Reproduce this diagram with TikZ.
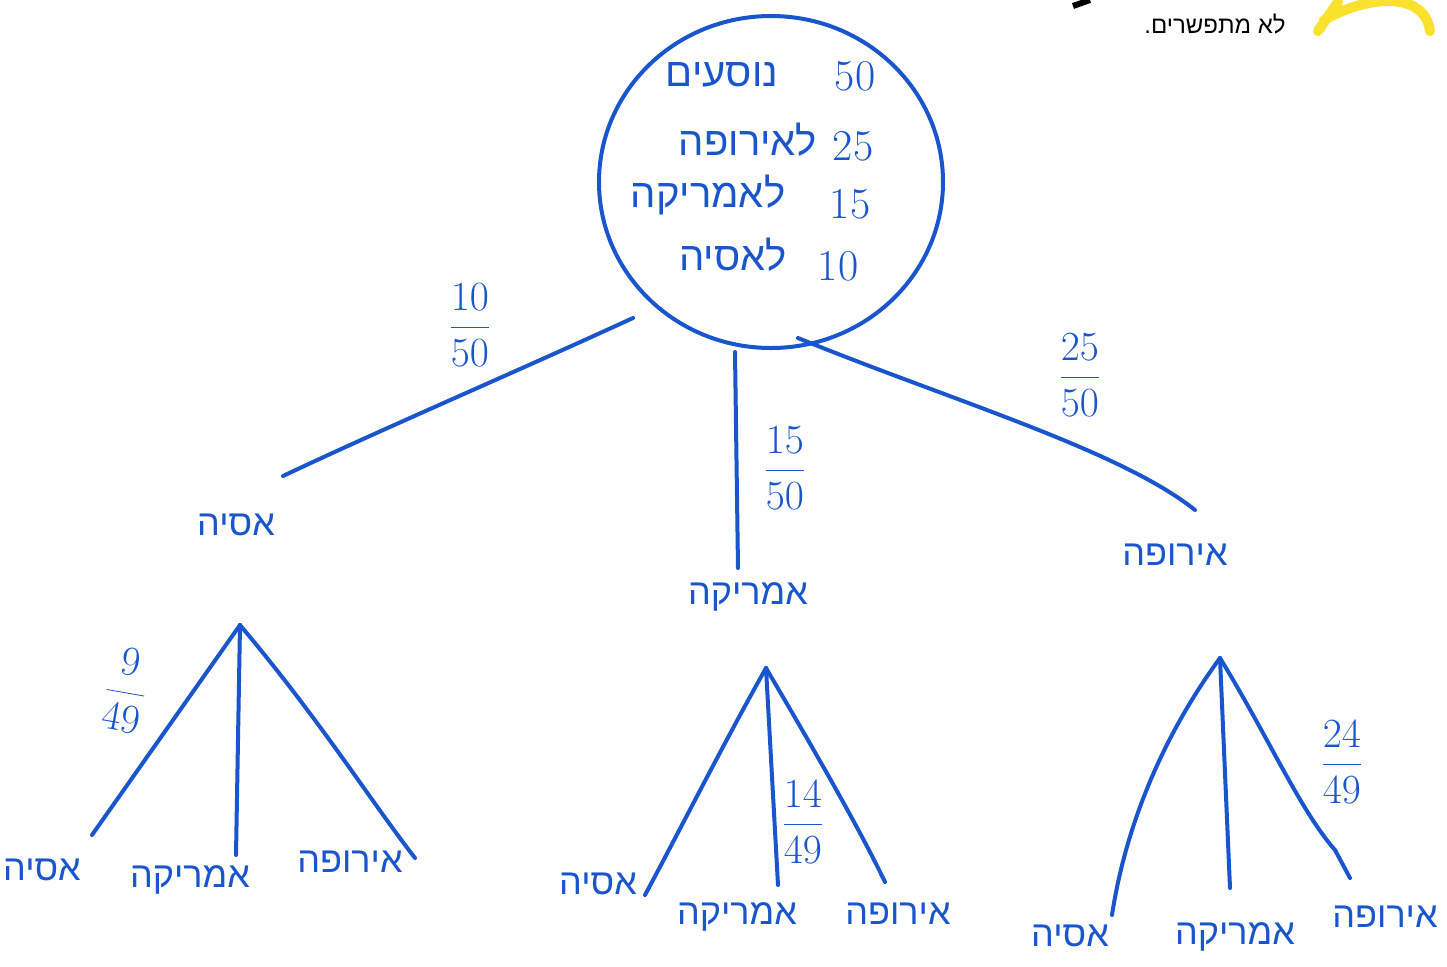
\documentclass[tikz,border=0pt]{standalone}
\usepackage{fontspec}
\usetikzlibrary{shapes.geometric}
\TeXXeTstate=1
\newfontfamily\heb[Script=Hebrew]{Liberation Sans}
\definecolor{ink}{RGB}{25,85,205}
\definecolor{hl}{RGB}{250,225,45}
\tikzset{
  hw/.style={text=ink, font=\heb\fontsize{18}{20}\selectfont, inner sep=0pt},
  rootw/.style={text=ink, font=\heb\fontsize{20}{22}\selectfont, inner sep=0pt},
  num/.style={text=ink, font=\fontsize{22}{24}\selectfont, inner sep=0pt},
  fr/.style={text=ink, font=\fontsize{21}{24}\selectfont, inner sep=0pt},
  edge/.style={draw=ink, line width=2pt, line cap=round},
  rootbox/.style={draw=ink, line width=2pt, ellipse, minimum width=172pt, minimum height=166pt}
}
\begin{document}
\begin{tikzpicture}[x=0.5pt,y=-0.5pt]
\useasboundingbox (0,0) rectangle (1447,966);
\fill[white] (0,0) rectangle (1447,966);
% top-right cut-off remnants
\node[font=\heb\fontsize{12}{14}\selectfont, text=black, inner sep=0pt] (slogan) at (1215,24) {\beginR לא מתפשרים.\endR};
\draw[hl, line width=5pt, line cap=round] (1318,31) -- (1338,2);
\draw[hl, line width=5pt, line cap=round] (1324,20) .. controls (1370,-6) and (1425,-8) .. (1430,31);
\draw[black, line width=3pt] (1073,6) -- (1090,0);
% root
\node[rootbox] (root) at (771,182) {};
\node[num] (n50) at (855,76) {50};
\node[rootw] (w50) at (722,75) {\beginR נוסעים\endR};
\node[num] (n25) at (853,146) {25};
\node[rootw] (w25) at (748,140) {\beginR לאירופה\endR};
\node[num] (n15) at (850,204) {15};
\node[rootw] (w15) at (708,195) {\beginR לאמריקה\endR};
\node[num] (n10) at (838,266) {10};
\node[rootw] (w10) at (733,255) {\beginR לאסיה\endR};
% level 1
\node[hw] (asia) at (236,525) {\beginR אסיה\endR};
\node[hw] (amer) at (748,597) {\beginR אמריקה\endR};
\node[hw] (euro) at (1175,555) {\beginR אירופה\endR};
\coordinate (rA) at (633,318);
\coordinate (rM) at (735,352);
\coordinate (rE) at (798,338);
\coordinate (eA) at (283,476);
\coordinate (eM) at (738,568);
\coordinate (eE) at (1195,510);
\draw[edge] (rA) .. controls (520,370) and (380,430) .. (eA);
\draw[edge] (rM) -- (eM);
\draw[edge] (rE) .. controls (950,400) and (1120,450) .. (eE);
\node[fr] (f1) at (470,325) {$\displaystyle\frac{10}{50}$};
\node[fr] (f2) at (785,468) {$\displaystyle\frac{15}{50}$};
\node[fr] (f3) at (1080,375) {$\displaystyle\frac{25}{50}$};
% subtree Asia
\coordinate (p1) at (240,625);
\coordinate (a1) at (92,835);
\coordinate (b1) at (236,855);
\coordinate (c1) at (415,858);
\draw[edge] (p1) -- (a1);
\draw[edge] (p1) -- (b1);
\draw[edge] (p1) .. controls (320,720) and (370,800) .. (c1);
\node[hw] (l1a) at (42,870) {\beginR אסיה\endR};
\node[hw] (l1b) at (190,880) {\beginR אמריקה\endR};
\node[hw] (l1c) at (350,862) {\beginR אירופה\endR};
\node[fr, rotate=-10] (f4) at (126,690) {$\displaystyle\frac{9}{49}$};
% subtree America
\coordinate (p2) at (766,668);
\coordinate (a2) at (645,895);
\coordinate (b2) at (778,885);
\coordinate (c2) at (885,882);
\draw[edge] (p2) .. controls (720,750) and (680,830) .. (a2);
\draw[edge] (p2) -- (b2);
\draw[edge] (p2) .. controls (820,760) and (860,830) .. (c2);
\node[hw] (l2a) at (598,884) {\beginR אסיה\endR};
\node[hw] (l2b) at (737,917) {\beginR אמריקה\endR};
\node[hw] (l2c) at (898,914) {\beginR אירופה\endR};
\node[fr] (f5) at (803,822) {$\displaystyle\frac{14}{49}$};
% subtree Europe
\coordinate (p3) at (1220,658);
\coordinate (a3) at (1112,915);
\coordinate (b3) at (1230,888);
\coordinate (c3) at (1350,878);
\draw[edge] (p3) .. controls (1160,740) and (1125,830) .. (a3);
\draw[edge] (p3) -- (b3);
\draw[edge] (p3) .. controls (1270,740) and (1300,810) .. (1335,850) -- (c3);
\node[hw] (l3a) at (1070,936) {\beginR אסיה\endR};
\node[hw] (l3b) at (1235,937) {\beginR אמריקה\endR};
\node[hw] (l3c) at (1385,917) {\beginR אירופה\endR};
\node[fr] (f6) at (1342,762) {$\displaystyle\frac{24}{49}$};
\end{tikzpicture}
\end{document}
